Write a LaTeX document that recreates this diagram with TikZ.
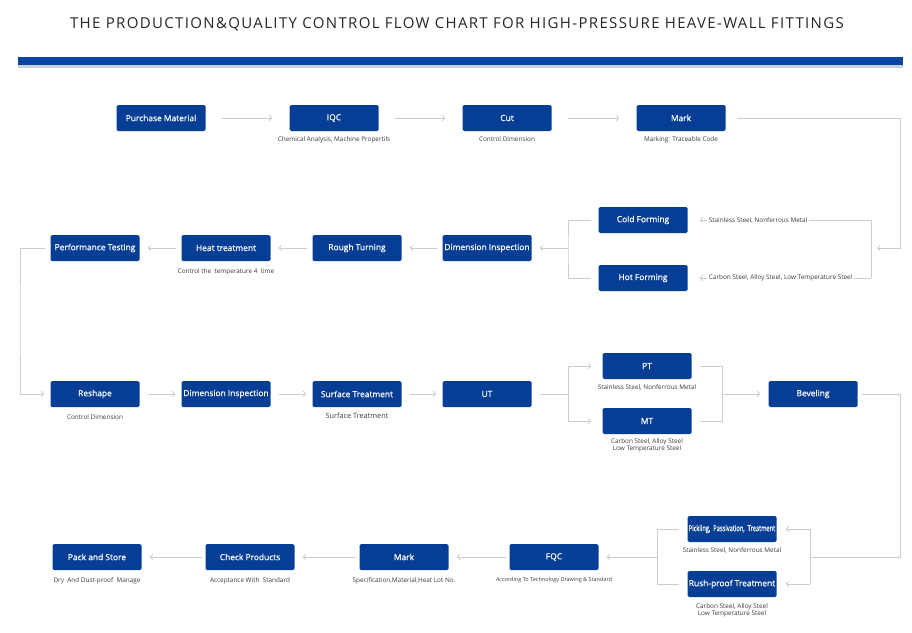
\documentclass[tikz,border=0pt]{standalone}
\usepackage{fontspec}
\usepackage{graphicx}
\setmainfont{Open Sans}
\newfontfamily\titlefont[LetterSpace=9]{Open Sans}
\newfontfamily\boxfont[FakeBold=0.8]{Open Sans}
\usetikzlibrary{positioning,arrows.meta}
\definecolor{boxblue}{RGB}{6,62,150}
\definecolor{bandblue}{RGB}{8,69,160}
\definecolor{bandgray}{RGB}{200,208,220}
\definecolor{linegray}{RGB}{204,204,204}
\definecolor{notegray}{RGB}{60,60,60}
\tikzset{
  stepbox/.style={fill=boxblue,rounded corners=1.5pt,minimum width=89pt,minimum height=26pt,
    inner sep=1pt,text=white,font=\boxfont\fontsize{8.4}{10}\selectfont},
  note/.style={inner sep=1pt,text=notegray,align=center,font=\fontsize{6.4}{7.6}\selectfont},
  conn/.style={draw=linegray,line width=0.8pt},
  arr/.style={conn,-{Straight Barb[length=2.6pt,width=5.5pt]},shorten >=8pt},
}
\begin{document}
\begin{tikzpicture}[x=1pt,y=-1pt]
  \useasboundingbox (0,0) rectangle (912,632);

  % heading
  \node[text=black!85,font=\titlefont\fontsize{15}{18}\selectfont] (title) at (457,24)
    {THE PRODUCTION\&QUALITY CONTROL FLOW CHART FOR HIGH-PRESSURE HEAVE-WALL FITTINGS};
  \fill[bandblue] (18,57) rectangle (903,65);
  \fill[bandgray] (18,65) rectangle (903,68);

  % row 1
  \node[stepbox] (purchase) at (161,118) {Purchase Material};
  \node[stepbox] (iqc) at (334,118) {IQC};
  \node[stepbox] (cut) at (507,118) {Cut};
  \node[stepbox] (mark1) at (681,118) {Mark};
  \node[note,below=4pt of iqc] (iqcnote) {Chemical Analysis, Machine Propertils};
  \node[note,below=4pt of cut] (cutnote) {Control Dimension};
  \node[note,below=4pt of mark1] (mark1note) {Marking: Traceable Code};

  \draw [arr,shorten <=16pt,shorten >=17pt] (purchase)--(iqc);
  \draw [arr,shorten <=16pt,shorten >=17pt] (iqc)--(cut);
  \draw [arr,shorten <=16pt,shorten >=17pt] (cut)--(mark1);

  % row 2
  \node[stepbox] (cold) at (643,220) {Cold Forming};
  \node[stepbox] (hot) at (643,278) {Hot Forming};
  \node[stepbox] (diminsp1) at (487,248) {Dimension Inspection};
  \node[stepbox] (rough) at (357,248) {Rough Turning};
  \node[stepbox] (heat) at (226,248) {Heat treatment};
  \node[stepbox] (perf) at (95,248) {Performance Testing};
  \node[note,below=6pt of heat] (heatnote) {Control the\ \ temperature\ 4\ \ time};

  \coordinate (railright) at (900,180);
  \coordinate (formjoin) at (871,248);
  \coordinate (formsplit) at (568,248);
  \draw [arr,shorten <=11pt,shorten >=6pt] (mark1.east)-|(railright)|-(formjoin);
  \draw [conn] (formjoin|-cold)--(formjoin|-hot);
  \draw [arr,shorten >=12pt] (formjoin|-cold)--(cold.east);
  \draw [arr,shorten >=12pt] (formjoin|-hot)--(hot.east);
  \node[note,fill=white,anchor=west,inner xsep=2pt] (coldnote) at ([xshift=19pt]cold.east)
    {Stainless Steel, Nonferrous Metal};
  \node[note,fill=white,anchor=west,inner xsep=2pt] (hotnote) at ([xshift=19pt]hot.east)
    {Carbon Steel, Alloy Steel, Low Temperature Steel};
  \draw [conn] ([xshift=-7pt]cold.west)-|(formsplit)|-([xshift=-7pt]hot.west);
  \draw [arr] (formsplit)--(diminsp1);

  \draw [arr,shorten <=5pt] (diminsp1)--(rough);
  \draw [arr,shorten <=5pt] (rough)--(heat);
  \draw [arr,shorten <=5pt] (heat)--(perf);

  % row 3
  \node[stepbox] (reshape) at (95,394) {Reshape};
  \node[stepbox] (diminsp2) at (226,394) {Dimension Inspection};
  \node[stepbox] (surface) at (357,394) {Surface Treatment};
  \node[stepbox] (ut) at (487,394) {UT};
  \node[stepbox] (pt) at (647,366) {PT};
  \node[stepbox] (mt) at (647,421) {MT};
  \node[stepbox] (bevel) at (813,394) {Beveling};
  \node[note,below=6pt of reshape] (reshapenote) {Control Dimension};
  \node[note,below=5pt of surface,font=\fontsize{7.3}{8.5}\selectfont] (surfacenote) {Surface Treatment};
  \node[note,below=4pt of pt] (ptnote) {Stainless Steel, Nonferrous Metal};
  \node[note,below=3pt of mt] (mtnote) {Carbon Steel, Alloy Steel\\Low Temperature Steel};

  \coordinate (railleft) at (20,320);
  \draw [arr,shorten <=5pt,shorten >=6pt] (perf.west)-|(railleft)|-(reshape.west);
  \draw [arr,shorten <=8pt,shorten >=6pt] (reshape)--(diminsp2);
  \draw [arr,shorten <=8pt,shorten >=6pt] (diminsp2)--(surface);
  \draw [arr,shorten <=8pt,shorten >=6pt] (surface)--(ut);

  \coordinate (ndtsplit) at (568,394);
  \coordinate (ndtjoin) at (722,394);
  \draw [conn,shorten <=8pt] (ut.east)--(ndtsplit);
  \draw [arr,shorten >=11pt] (ndtsplit)|-(pt.west);
  \draw [arr,shorten >=11pt] (ndtsplit)|-(mt.west);
  \draw [conn,shorten <=8pt] (pt.east)-|(ndtjoin);
  \draw [conn,shorten <=8pt] (mt.east)-|(ndtjoin);
  \draw [arr] (ndtjoin)--(bevel);

  % row 4
  \node[stepbox] (pickling) at (732,529) {\scalebox{0.68}[1]{Pickling,\ \ Passivation,\ \ Treatment}};
  \node[stepbox] (rust) at (732,584) {Rush-proof Treatment};
  \node[stepbox] (fqc) at (554,557) {FQC};
  \node[stepbox] (mark2) at (404,557) {Mark};
  \node[stepbox] (check) at (250,557) {Check Products};
  \node[stepbox] (pack) at (97,557) {Pack and Store};
  \node[note,below=4pt of pickling] (picklingnote) {Stainless Steel, Nonferrous Metal};
  \node[note,below=5pt of rust] (rustnote) {Carbon Steel, Alloy Steel\\Low Temperature Steel};
  \node[note,below=6pt of fqc,font=\fontsize{5.5}{6.5}\selectfont] (fqcnote) {According To Technology Drawing \& Standard};
  \node[note,below=6pt of mark2] (mark2note) {Specification,Material,Heat Lot No.};
  \node[note,below=6pt of check] (checknote) {Acceptance\ With\ \ Standard};
  \node[note,below=6pt of pack] (packnote) {Dry\ \ And Dust-proof\ \ Manage};

  \coordinate (railbevel) at (900,470);
  \coordinate (treatjoin) at (810,557);
  \coordinate (treatsplit) at (657,557);
  \draw [conn,shorten <=4pt] (bevel.east)-|(railbevel)|-(treatjoin);
  \draw [conn] (treatjoin|-pickling)--(treatjoin|-rust);
  \draw [arr,shorten >=9pt] (treatjoin|-pickling)--(pickling.east);
  \draw [arr,shorten >=9pt] (treatjoin|-rust)--(rust.east);
  \draw [conn] ([xshift=-8pt]pickling.west)-|(treatsplit)|-([xshift=-8pt]rust.west);
  \draw [arr] (treatsplit)--(fqc);

  \draw [arr,shorten <=3pt] (fqc)--(mark2);
  \draw [arr,shorten <=3pt] (mark2)--(check);
  \draw [arr,shorten <=3pt] (check)--(pack);
\end{tikzpicture}
\end{document}
